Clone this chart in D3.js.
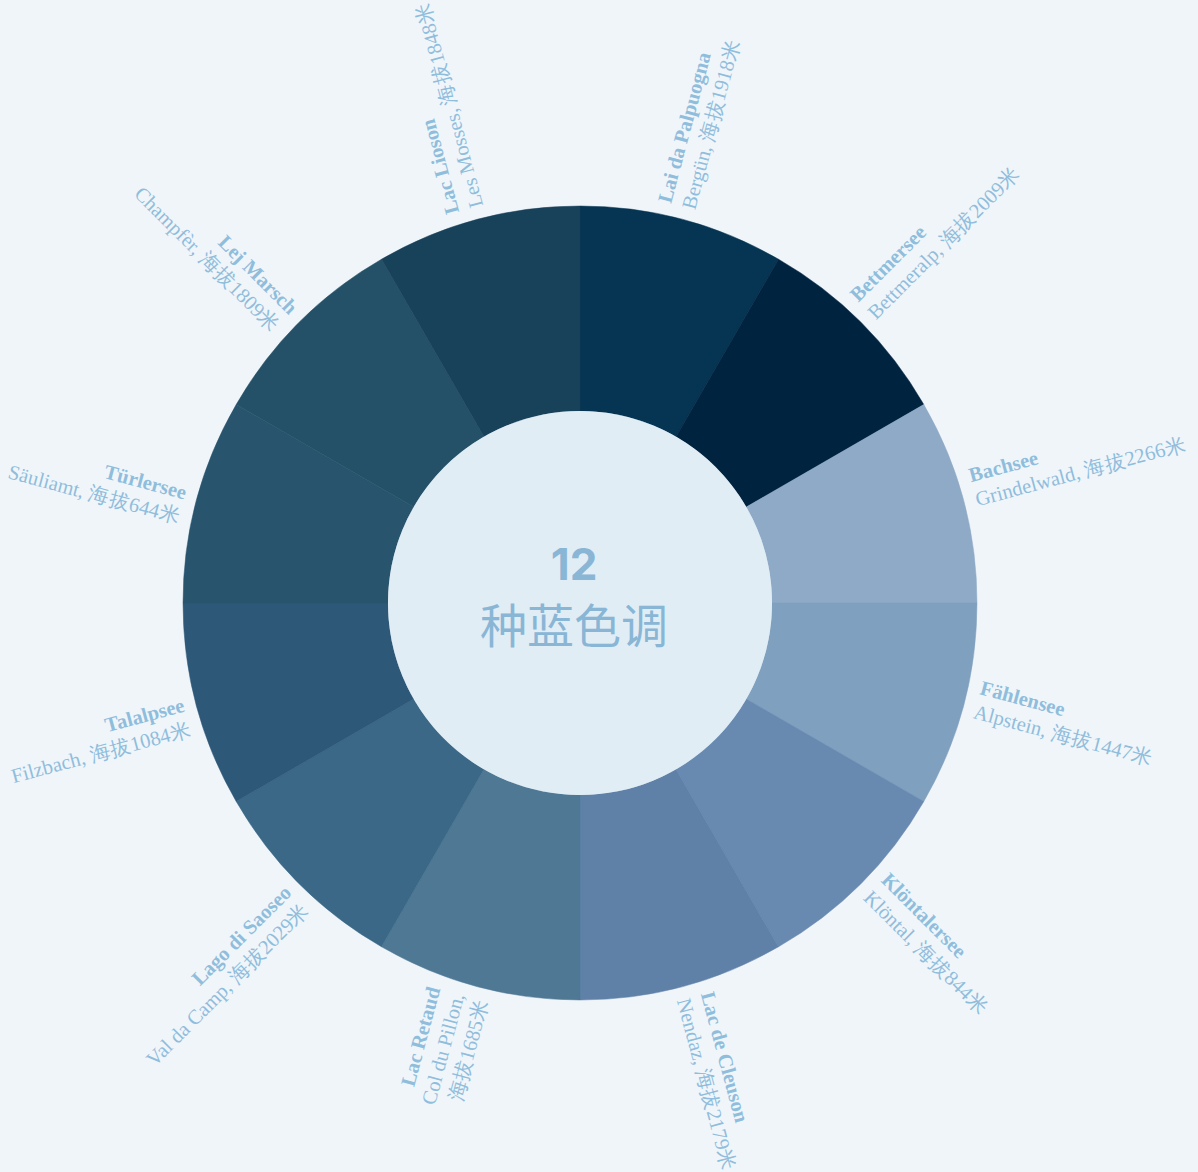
<!DOCTYPE html>
<html lang="zh">
<head>
<meta charset="utf-8">
<script src="https://d3js.org/d3.v7.min.js"></script>
<style>
  body { margin: 0; background: #f0f5fa; }
</style>
</head>
<body>
<script>
// lakes, clockwise from top
var lakes = ["Lai da Palpuogna", "Bettmersee", "Bachsee", "Fählensee", "Klöntalersee", "Lac de Cleuson",
  "Lac Retaud", "Lago di Saoseo", "Talalpsee", "Türlersee", "Lej Marsch", "Lac Lioson"];
var places = ["Bergün, 海拔1918米", "Bettmeralp, 海拔2009米", "Grindelwald, 海拔2266米", "Alpstein, 海拔1447米",
  "Klöntal, 海拔844米", "Nendaz, 海拔2179米", "Col du Pillon,|海拔1685米", "Val da Camp, 海拔2029米",
  "Filzbach, 海拔1084米", "Säuliamt, 海拔644米", "Champfèr, 海拔1809米", "Les Mosses, 海拔1848米"];
var colors = ["#053552", "#002340", "#8eaac7", "#7fa0be", "#6889b0", "#5f81a8",
  "#4e7894", "#3b6887", "#2e5878", "#28546e", "#245167", "#18415a"];
var weights = [1, 1, 1, 1, 1, 1, 1, 1, 1, 1, 1, 1];

var W = 1198, H = 1172;
var cx = 580, cy = 603;
var rOuter = 397, rInner = 192;
var labelColor = "#8fbddc";
var lineH = 25;

var svg = d3.select("body").append("svg")
  .attr("width", W).attr("height", H);

svg.append("rect").attr("width", W).attr("height", H).attr("fill", "#f0f5fa");

var g = svg.append("g").attr("transform", "translate(" + cx + "," + cy + ")");

var pie = d3.pie().sort(null).value(function(d) { return d; });
var arcs = pie(weights);
var arc = d3.arc().innerRadius(rInner).outerRadius(rOuter);

g.selectAll("path.slice")
  .data(arcs)
  .enter().append("path")
  .attr("class", "slice")
  .attr("d", arc)
  .attr("fill", function(d, i) { return colors[i]; })
  .attr("stroke", function(d, i) { return colors[i]; })
  .attr("stroke-width", 0.5);

g.append("circle").attr("r", rInner).attr("fill", "#e1edf5");

function midDeg(d) { return (d.startAngle + d.endAngle) / 2 * 180 / Math.PI; }
function isFlipped(d) { var a = midDeg(d); return a > 180 && a < 330; }

// labels, rotated along the mid angle
var labels = g.selectAll("text.lbl")
  .data(arcs)
  .enter().append("text")
  .attr("class", "lbl")
  .attr("font-family", "'Liberation Serif', 'DejaVu Serif', serif")
  .attr("font-size", 20.5)
  .attr("fill", labelColor)
  .attr("transform", function(d) {
    return "rotate(" + (midDeg(d) - 90) + ") translate(" + (rOuter + 12) + ",0)" + (isFlipped(d) ? " rotate(180)" : "");
  })
  .attr("text-anchor", function(d) { return isFlipped(d) ? "end" : "start"; });

labels.each(function(d, i) {
  var t = d3.select(this);
  var lines = [lakes[i]].concat(places[i].split("|"));
  var n = lines.length;
  var flip = isFlipped(d);
  // block sits a little counter-clockwise of the mid angle
  var center = flip ? 9 : -9;
  lines.forEach(function(s, k) {
    t.append("tspan")
      .attr("x", 0)
      .attr("y", center + 6 + (k - (n - 1) / 2) * lineH - (n - 2) * lineH)
      .attr("font-weight", k === 0 ? "bold" : "normal")
      .text(s);
  });
});

// center text
g.append("text")
  .attr("text-anchor", "middle")
  .attr("x", -6)
  .attr("y", -23)
  .attr("font-family", "Inter, 'Noto Sans', sans-serif")
  .attr("font-weight", "bold")
  .attr("font-size", 44)
  .attr("fill", "#8ab6d5")
  .text("12");

g.append("text")
  .attr("text-anchor", "middle")
  .attr("x", -6)
  .attr("y", 40)
  .attr("font-family", "'Noto Sans CJK SC', sans-serif")
  .attr("font-size", 47)
  .attr("fill", "#8ab6d5")
  .text("种蓝色调");
</script>
</body>
</html>
